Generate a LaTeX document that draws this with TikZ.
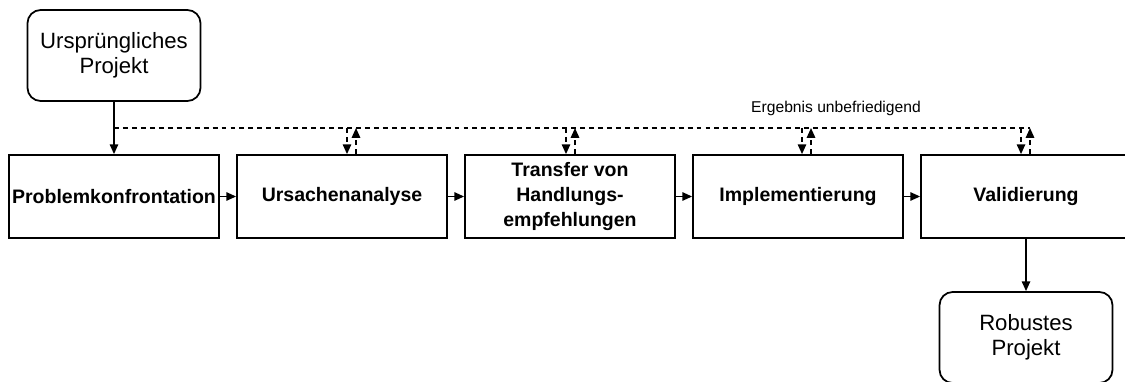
\documentclass[tikz,border=0pt]{standalone}
\usepackage{fontspec}
\setmainfont{Liberation Sans}
\usetikzlibrary{arrows.meta,positioning,calc}

\begin{document}
\begin{tikzpicture}[
    stepbox/.style={draw, line width=1pt, minimum width=4.2cm, minimum height=1.66cm, inner sep=1pt, align=center, font=\fontsize{11.1}{14.2}\selectfont\bfseries},
    endbox/.style={draw, line width=1pt, rounded corners=7.5pt, minimum width=3.46cm, minimum height=1.82cm, align=center, font=\fontsize{12.6}{14.2}\selectfont},
    arrow/.style={-{Triangle[length=5.6pt,width=4.8pt]}, line width=0.9pt},
    feedback/.style={arrow, dash pattern=on 2.8pt off 2.3pt}
]
\clip (0,0) rectangle (22.5,7.62);

% Start and end
\node[endbox] (start) at (2.28,6.51) {Ursprüngliches\\Projekt};

% Main process chain
\node[stepbox] (problem) at (2.28,3.69) {Problemkonfrontation};
\node[stepbox] (ursache) at (6.84,3.69) {Ursachenanalyse};
\node[stepbox] (transfer) at (11.4,3.69) {Transfer von\\Handlungs-\\empfehlungen};
\node[stepbox] (impl) at (15.96,3.69) {Implementierung};
\node[stepbox] (valid) at (20.52,3.69) {Validierung};

\node[endbox] (robust) at (20.52,0.87) {Robustes\\Projekt};

% Arrows
\draw[arrow] (start) -- (problem);
\draw[arrow] (problem) -- (ursache);
\draw[arrow] (ursache) -- (transfer);
\draw[arrow] (transfer) -- (impl);
\draw[arrow] (impl) -- (valid);
\draw[arrow] (valid) -- (robust);

% Feedback loop
\coordinate (fb) at (2.28,5.06);
\coordinate (fbend) at (20.6,5.06);
\draw[feedback, -] (fb) -- (fbend);
\foreach \n/\d/\u in {ursache/0.1/0.28, transfer/-0.08/0.1, impl/0.08/0.26, valid/-0.1/0.08} {
    \coordinate (dn) at ([xshift=\d cm]\n.north);
    \coordinate (up) at ([xshift=\u cm]\n.north);
    \draw[feedback] (dn |- fb) -- (dn);
    \draw[feedback] (up) -- (up |- fb);
}
\node[font=\fontsize{8.9}{10}\selectfont] (label) at (16.72,5.46) {Ergebnis unbefriedigend};

\end{tikzpicture}
\end{document}
